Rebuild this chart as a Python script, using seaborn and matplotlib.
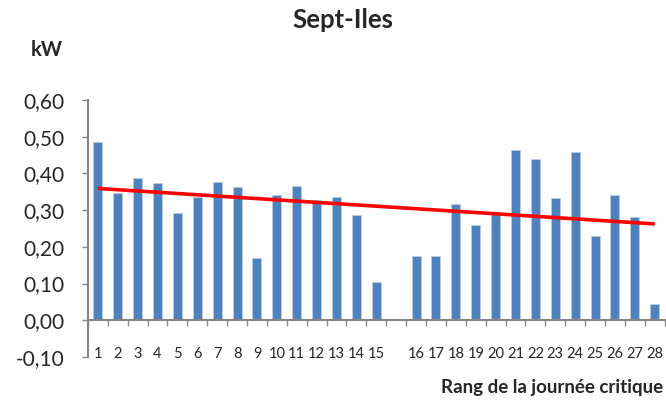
import matplotlib
matplotlib.use("Agg")
import matplotlib.pyplot as plt
from matplotlib.ticker import FixedLocator, FuncFormatter
import seaborn as sns
import numpy as np
import pandas as pd

# rang de la journee critique (one empty slot between 15 and 16)
days = [str(i) for i in range(1, 16)] + [" "] + [str(i) for i in range(16, 29)]
day_values = [0.485, 0.348, 0.388, 0.373, 0.291, 0.337, 0.378, 0.363, 0.170, 0.342,
              0.367, 0.328, 0.337, 0.287, 0.103, np.nan, 0.174, 0.174, 0.317, 0.260,
              0.296, 0.464, 0.438, 0.332, 0.458, 0.230, 0.342, 0.280, 0.043]
y_ticks = [-0.10, 0.0, 0.10, 0.20, 0.30, 0.40, 0.50, 0.60]

sns.set_style("white")
plt.rcParams["font.family"] = ["Lato", "DejaVu Sans"]

df = pd.DataFrame({"jour": days, "kW": day_values})

fig = plt.figure(figsize=(6.66, 4.0), dpi=100)
ax = fig.add_axes([0.132, 0.1075, 0.866, 0.6425])

sns.barplot(data=df.dropna(), x="jour", y="kW", order=days, color="#4F81BD",
            width=0.45, edgecolor="#B9CDE5", linewidth=0.6, saturation=1, ax=ax)

# linear trendline over the slots
pos = np.arange(len(days))
vals = np.array(day_values)
ok = ~np.isnan(vals)
slope, inter = np.polyfit(pos[ok], vals[ok], 1)
ax.plot(pos, slope * pos + inter, color="#FF0000", linewidth=2.6, solid_capstyle="butt")

ax.set_xlim(-0.5, len(days) - 0.5)
ax.set_ylim(-0.10, 0.60)
ax.set_yticks(y_ticks)
ax.yaxis.set_major_formatter(FuncFormatter(lambda v, p: f"{v:.2f}".replace(".", ",")))
ax.tick_params(axis="y", direction="out", length=4, width=1, color="#868686",
               labelsize=15, pad=13, left=True)

ax.spines["top"].set_visible(False)
ax.spines["right"].set_visible(False)
ax.spines["left"].set_color("#868686")
ax.spines["left"].set_linewidth(1.5)
ax.spines["bottom"].set_position(("data", 0))
ax.spines["bottom"].set_color("#868686")
ax.spines["bottom"].set_linewidth(1.5)

ax.xaxis.set_minor_locator(FixedLocator(np.arange(len(days) + 1) - 0.5))
ax.tick_params(axis="x", which="minor", direction="out", length=4, width=1,
               color="#868686", bottom=True)
ax.tick_params(axis="x", which="major", length=0, labelsize=10.5, pad=19)

ax.set_xlabel("")
ax.set_ylabel("")

fig.text(0.515, 0.95, "Sept-Iles", ha="center", va="center",
         fontsize=18.5, fontweight="bold")
fig.text(0.07, 0.875, "kW", ha="center", va="center", fontsize=14.5, fontweight="bold")
fig.text(0.662, 0.032, "Rang de la journée critique", ha="left", va="center",
         fontsize=13.5, fontweight="bold")

fig.savefig("out.png", dpi=100)
